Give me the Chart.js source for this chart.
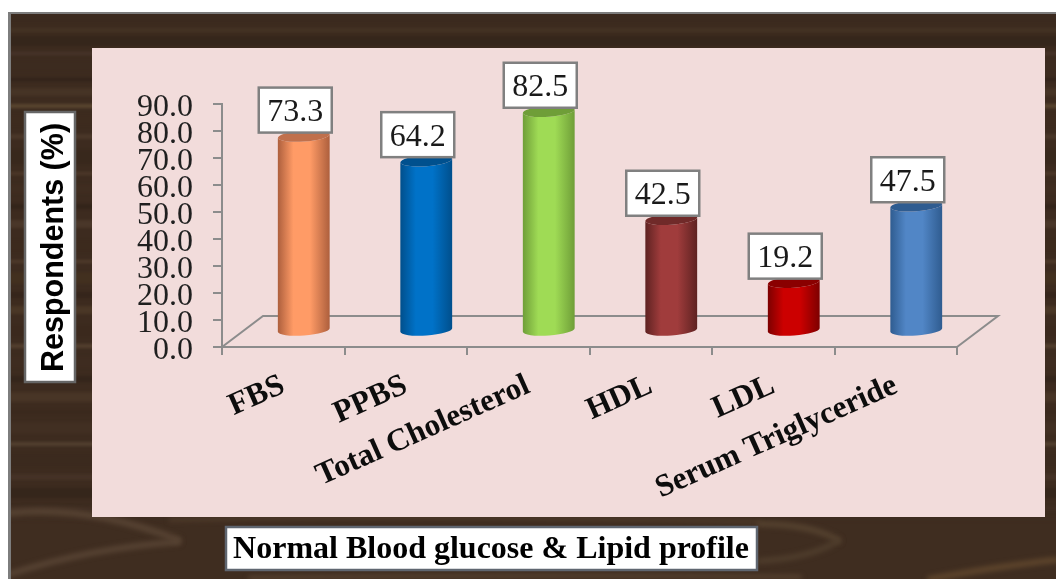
<!DOCTYPE html>
<html>
<head>
<meta charset="utf-8">
<style>
  html, body { margin: 0; padding: 0; background: #fff; }
  canvas { display: block; }
</style>
<script src="https://cdn.jsdelivr.net/npm/chart.js@4/dist/chart.umd.min.js"></script>
</head>
<body>
<canvas id="myChart" width="1056" height="579"></canvas>
<script>
var categories = ["FBS", "PPBS", "Total Cholesterol", "HDL", "LDL", "Serum Triglyceride"];
var respondents = [73.3, 64.2, 82.5, 42.5, 19.2, 47.5];
var yTickValues = [0, 10, 20, 30, 40, 50, 60, 70, 80, 90];
var yAxisTitle = "Respondents (%)";
var bottomTitle = "Normal Blood glucose & Lipid profile";

// [edge, centre, cap] for each cylinder
var barShades = [
  ["#ad5f3d", "#ff9b66", "#c0704c"],
  ["#004f8c", "#0072c8", "#00508e"],
  ["#6f9e38", "#9fdb55", "#6f9e38"],
  ["#5e2221", "#a03c3c", "#702a29"],
  ["#7d0000", "#cc0000", "#8a0000"],
  ["#2f5c90", "#5186c6", "#2f5c90"]
];

// wood streaks: [y, height, colour]
var woodBands = [
  [14, 8, "#3b2a1e"], [28, 4, "#443224"], [36, 10, "#35261b"], [52, 3, "#46342a"],
  [60, 12, "#3c2b1f"], [78, 3, "#30221a"], [88, 8, "#463425"], [104, 4, "#5a4630"],
  [114, 12, "#3d2b1e"], [134, 5, "#4a3729"], [150, 14, "#38281c"], [172, 3, "#4e3a2a"],
  [184, 10, "#3f2d20"], [204, 5, "#33241a"], [220, 8, "#4a3729"], [240, 12, "#3c2a1d"],
  [260, 3, "#503c2c"], [272, 12, "#42301f"], [292, 6, "#35251b"], [306, 8, "#4a3726"],
  [326, 10, "#3b291d"], [344, 4, "#54402f"], [356, 12, "#3e2c20"], [376, 6, "#34251b"],
  [392, 10, "#483526"], [410, 4, "#3a291d"], [422, 12, "#412f22"], [442, 4, "#524030"],
  [454, 12, "#3b2a1e"], [474, 6, "#453226"], [488, 10, "#35261b"], [506, 6, "#3f2e22"]
];
// lighter swooshes near the bottom: [x0, y0, cx, cy, x1, y1, width, colour]
var woodSwirls = [
  [10, 513, 90, 505, 178, 540, 7, "#564232"],
  [10, 574, 90, 548, 178, 542, 6, "#574333"],
  [170, 520, 420, 514, 760, 522, 3, "#54402e"],
  [250, 578, 520, 574, 800, 577, 4, "#584331"],
  [760, 524, 810, 524, 838, 540, 6, "#55422f"],
  [760, 561, 810, 558, 838, 541, 6, "#4f3d2c"],
  [930, 579, 1000, 566, 1056, 560, 6, "#5e452c"]
];

function drawWood(ctx, w, h) {
  ctx.fillStyle = "#ffffff";
  ctx.fillRect(0, 0, w, h);
  ctx.fillStyle = "#3d2b1f";
  ctx.fillRect(10, 13, w - 10, h - 13);
  ctx.save();
  ctx.beginPath();
  ctx.rect(10, 13, w - 10, h - 13);
  ctx.clip();
  ctx.filter = "blur(1.5px)";
  woodBands.forEach(function (b) {
    ctx.fillStyle = b[2];
    ctx.fillRect(0, b[0], w + 10, b[1]);
  });
  ctx.filter = "blur(3px)";
  ctx.fillStyle = "#3f2d20";
  ctx.fillRect(0, 517, w + 10, h);
  ctx.filter = "blur(2.5px)";
  ctx.lineCap = "round";
  woodSwirls.forEach(function (s) {
    ctx.beginPath();
    ctx.moveTo(s[0], s[1]);
    ctx.quadraticCurveTo(s[2], s[3], s[4], s[5]);
    ctx.lineWidth = s[6];
    ctx.strokeStyle = s[7];
    ctx.stroke();
  });
  ctx.restore();
  // grey frame on top and left
  ctx.fillStyle = "#7d7d7d";
  ctx.fillRect(8, 12, w - 8, 2);
  ctx.fillRect(8, 12, 3, h - 12);
  // pink panel
  ctx.fillStyle = "#f2dcdb";
  ctx.fillRect(92, 48, 953, 469);
}

function textBox(ctx, x, y, w, h, lw, stroke) {
  ctx.fillStyle = "#ffffff";
  ctx.fillRect(x, y, w, h);
  ctx.lineWidth = lw;
  ctx.strokeStyle = stroke;
  ctx.strokeRect(x, y, w, h);
}

function drawCylinder(ctx, cx, top, base, rx, shade) {
  var tilt = -0.07, ry = 5.5;
  var grad = ctx.createLinearGradient(cx - rx, 0, cx + rx, 0);
  grad.addColorStop(0, shade[0]);
  grad.addColorStop(0.3, shade[1]);
  grad.addColorStop(0.62, shade[1]);
  grad.addColorStop(1, shade[0]);
  ctx.beginPath();
  ctx.ellipse(cx, top, rx, ry, tilt, Math.PI, 0, true);
  ctx.ellipse(cx, base, rx, ry, tilt, 0, Math.PI, false);
  ctx.closePath();
  ctx.fillStyle = grad;
  ctx.fill();
  ctx.beginPath();
  ctx.ellipse(cx, top, rx, ry, tilt, 0, Math.PI * 2);
  ctx.fillStyle = shade[2];
  ctx.fill();
}

var depthX = 41, depthY = 31;

var pictureParts = {
  id: "pictureParts",
  beforeDraw: function (chart) {
    var ctx = chart.ctx;
    ctx.save();
    drawWood(ctx, chart.width, chart.height);
    ctx.restore();
  },
  beforeDatasetsDraw: function (chart) {
    var ctx = chart.ctx, a = chart.chartArea;
    ctx.save();
    ctx.strokeStyle = "#8c8c8c";
    ctx.lineWidth = 2;
    ctx.beginPath();
    ctx.moveTo(a.left, a.bottom);
    ctx.lineTo(a.left + depthX, a.bottom - depthY);
    ctx.lineTo(a.right + depthX, a.bottom - depthY);
    ctx.lineTo(a.right, a.bottom);
    ctx.stroke();
    ctx.restore();
  },
  beforeDatasetDraw: function (chart, args) {
    var ctx = chart.ctx;
    var meta = args.meta;
    ctx.save();
    meta.data.forEach(function (el, i) {
      drawCylinder(ctx, el.x + depthX / 2, el.y - 13, el.base - 16, el.width / 2, barShades[i]);
    });
    ctx.restore();
    return false;
  },
  afterDatasetsDraw: function (chart) {
    var ctx = chart.ctx;
    var meta = chart.getDatasetMeta(0);
    ctx.save();
    meta.data.forEach(function (el, i) {
      var boxX = el.x + depthX / 2 - 45;
      var boxY = el.y - 16.5 - 45;
      textBox(ctx, boxX, boxY, 73, 45, 2.5, "#808080");
      ctx.fillStyle = "#1a1a1a";
      ctx.font = "32px 'Liberation Serif'";
      ctx.textAlign = "center";
      ctx.textBaseline = "middle";
      ctx.fillText(respondents[i].toFixed(1), boxX + 36.5, boxY + 25);
    });

    textBox(ctx, 25, 112, 50, 270, 2.5, "#666666");
    ctx.translate(63, 247.5);
    ctx.rotate(-Math.PI / 2);
    ctx.fillStyle = "#000";
    ctx.font = "bold 30.5px 'Liberation Sans'";
    ctx.textAlign = "center";
    ctx.textBaseline = "alphabetic";
    ctx.fillText(yAxisTitle, 0, 0);
    ctx.setTransform(1, 0, 0, 1, 0, 0);

    textBox(ctx, 226, 527, 531, 43, 2.5, "#5f6670");
    ctx.fillStyle = "#000";
    ctx.font = "bold 32px 'Liberation Serif'";
    ctx.textAlign = "center";
    ctx.textBaseline = "middle";
    ctx.fillText(bottomTitle, 491, 550, 520);
    ctx.restore();
  }
};

var ctx = document.getElementById("myChart").getContext("2d");
var myChart = new Chart(ctx, {
  type: "bar",
  data: {
    labels: categories,
    datasets: [
      {
        label: yAxisTitle,
        data: respondents,
        backgroundColor: barShades.map(function (s) { return s[1]; }),
        categoryPercentage: 1,
        barPercentage: 0.424
      }
    ]
  },
  plugins: [pictureParts],
  options: {
    responsive: false,
    animation: false,
    layout: { padding: { left: 0, top: 104, right: 99, bottom: 0 } },
    plugins: { legend: { display: false }, tooltip: { enabled: false } },
    scales: {
      x: {
        afterFit: function (s) {
          s.height = 232;
          s.paddingLeft = 0; s.paddingRight = 0;
        },
        border: { color: "#8c8c8c", width: 2 },
        grid: { drawOnChartArea: false, color: "#8c8c8c", lineWidth: 2, tickLength: 8 },
        ticks: {
          autoSkip: false,
          minRotation: 24,
          maxRotation: 24,
          padding: 12,
          color: "#0d0d0d",
          font: { family: "'Liberation Serif'", size: 31.5, weight: "bold" }
        }
      },
      y: {
        min: 0,
        max: 90,
        afterFit: function (s) {
          s.width = 222;
          s.paddingTop = 0; s.paddingBottom = 0;
          // tick labels sit a little lower than the tick marks in this picture
          if (s.labelsShifted) return;
          s.labelsShifted = true;
          var drawLabels = s.drawLabels;
          s.drawLabels = function (area) {
            s.ctx.save();
            s.ctx.translate(0, 3.5);
            drawLabels.call(s, area);
            s.ctx.restore();
          };
        },
        afterBuildTicks: function (s) {
          s.ticks = yTickValues.map(function (v) { return { value: v }; });
        },
        border: { color: "#8c8c8c", width: 2 },
        grid: { drawOnChartArea: false, color: "#8c8c8c", lineWidth: 2, tickLength: 9 },
        ticks: {
          autoSkip: false,
          padding: 20,
          color: "#1f1f1f",
          font: { family: "'Liberation Serif'", size: 32 },
          callback: function (v) { return Number(v).toFixed(1); }
        }
      }
    }
  }
});
</script>
</body>
</html>
